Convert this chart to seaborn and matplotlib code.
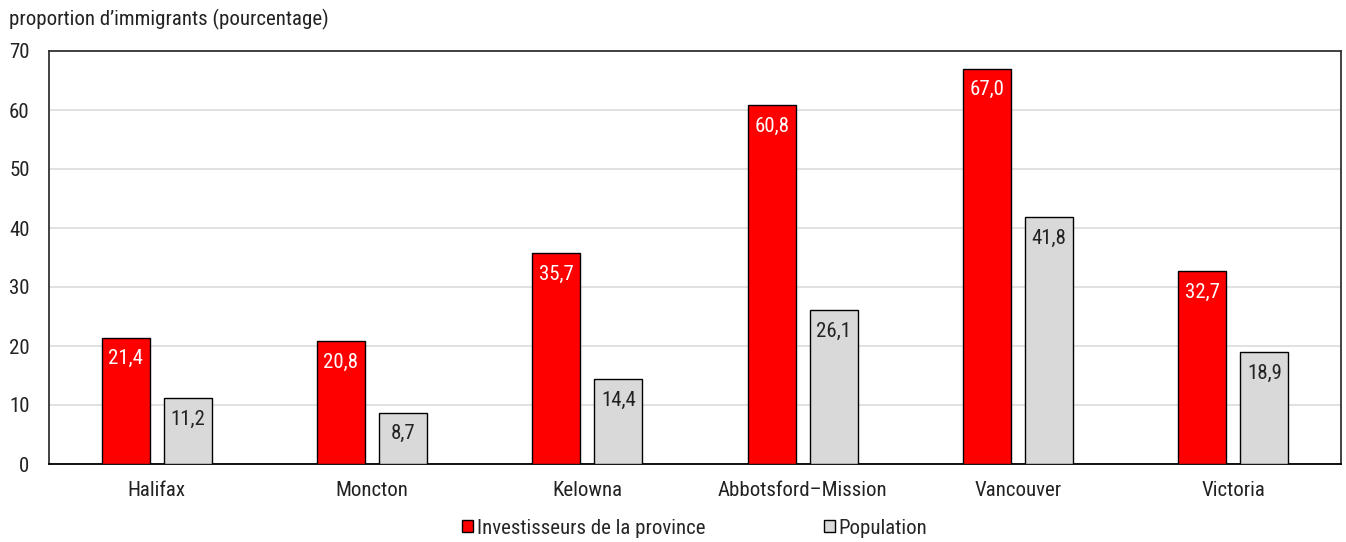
import matplotlib
matplotlib.use("Agg")
import matplotlib.pyplot as plt
import seaborn as sns
import pandas as pd
from matplotlib.font_manager import fontManager

cities = ["Halifax", "Moncton", "Kelowna", "Abbotsford\u2013Mission", "Vancouver", "Victoria"]
investisseurs = [21.4, 20.8, 35.7, 60.8, 67.0, 32.7]
population = [11.2, 8.7, 14.4, 26.1, 41.8, 18.9]
series = ["Investisseurs de la province", "Population"]
colors = ["#ff0000", "#d9d9d9"]
yticks = [0, 10, 20, 30, 40, 50, 60, 70]

df = pd.DataFrame({
    "ville": cities * 2,
    "groupe": [series[0]] * len(cities) + [series[1]] * len(cities),
    "valeur": investisseurs + population,
})

sns.set_theme(style="white")
names = {f.name for f in fontManager.ttflist}
fam = [f for f in ["Roboto Condensed", "Liberation Sans Narrow", "Roboto", "DejaVu Sans"] if f in names]
plt.rcParams["font.family"] = fam

FS = 15
fig = plt.figure(figsize=(13.46, 5.42), dpi=100)
ax = fig.add_axes([49 / 1346, 1 - 464 / 542, 1292 / 1346, 413 / 542])

sns.barplot(data=df, x="ville", y="valeur", hue="groupe", hue_order=series,
            palette=colors, saturation=1, width=0.576, gap=0.226,
            edgecolor="black", linewidth=1, ax=ax, legend=True, zorder=3)

ax.set_xlim(-0.5, len(cities) - 0.5)
ax.set_ylim(0, 70)
ax.set_yticks(yticks)
ax.set_yticklabels([str(t) for t in yticks], fontsize=FS, color="#222222")
ax.tick_params(axis="x", labelsize=FS, labelcolor="#222222", length=0, pad=12)
ax.tick_params(axis="y", length=0, pad=14)
ax.set_xlabel("")
ax.set_ylabel("")
ax.yaxis.grid(True, color="#dcdcdc", linewidth=1.2, zorder=0)
ax.set_axisbelow(True)
for s in ["left", "top", "right"]:
    ax.spines[s].set_color("#333333")
    ax.spines[s].set_linewidth(1.3)
ax.spines["bottom"].set_color("black")
ax.spines["bottom"].set_linewidth(1.3)

for i, cont in enumerate(ax.containers):
    tc = "white" if i == 0 else "#222222"
    labels = [f"{v:.1f}".replace(".", ",") for v in cont.datavalues]
    ax.bar_label(cont, labels=labels, label_type="edge", padding=-22,
                 color=tc, fontsize=FS)

fig.text(9 / 1346, 1 - 19 / 542, "proportion d\u2019immigrants (pourcentage)",
         fontsize=FS, color="#222222", va="center", ha="left")

leg = ax.legend(loc="center", bbox_to_anchor=(0.5, -64 / 413), ncol=2,
                frameon=False, fontsize=FS, handlelength=0.5, handleheight=0.5,
                handletextpad=0.2, columnspacing=5.7)
for h in leg.legend_handles:
    h.set_edgecolor("black")
    h.set_linewidth(1)

fig.savefig("out.png", dpi=100)
